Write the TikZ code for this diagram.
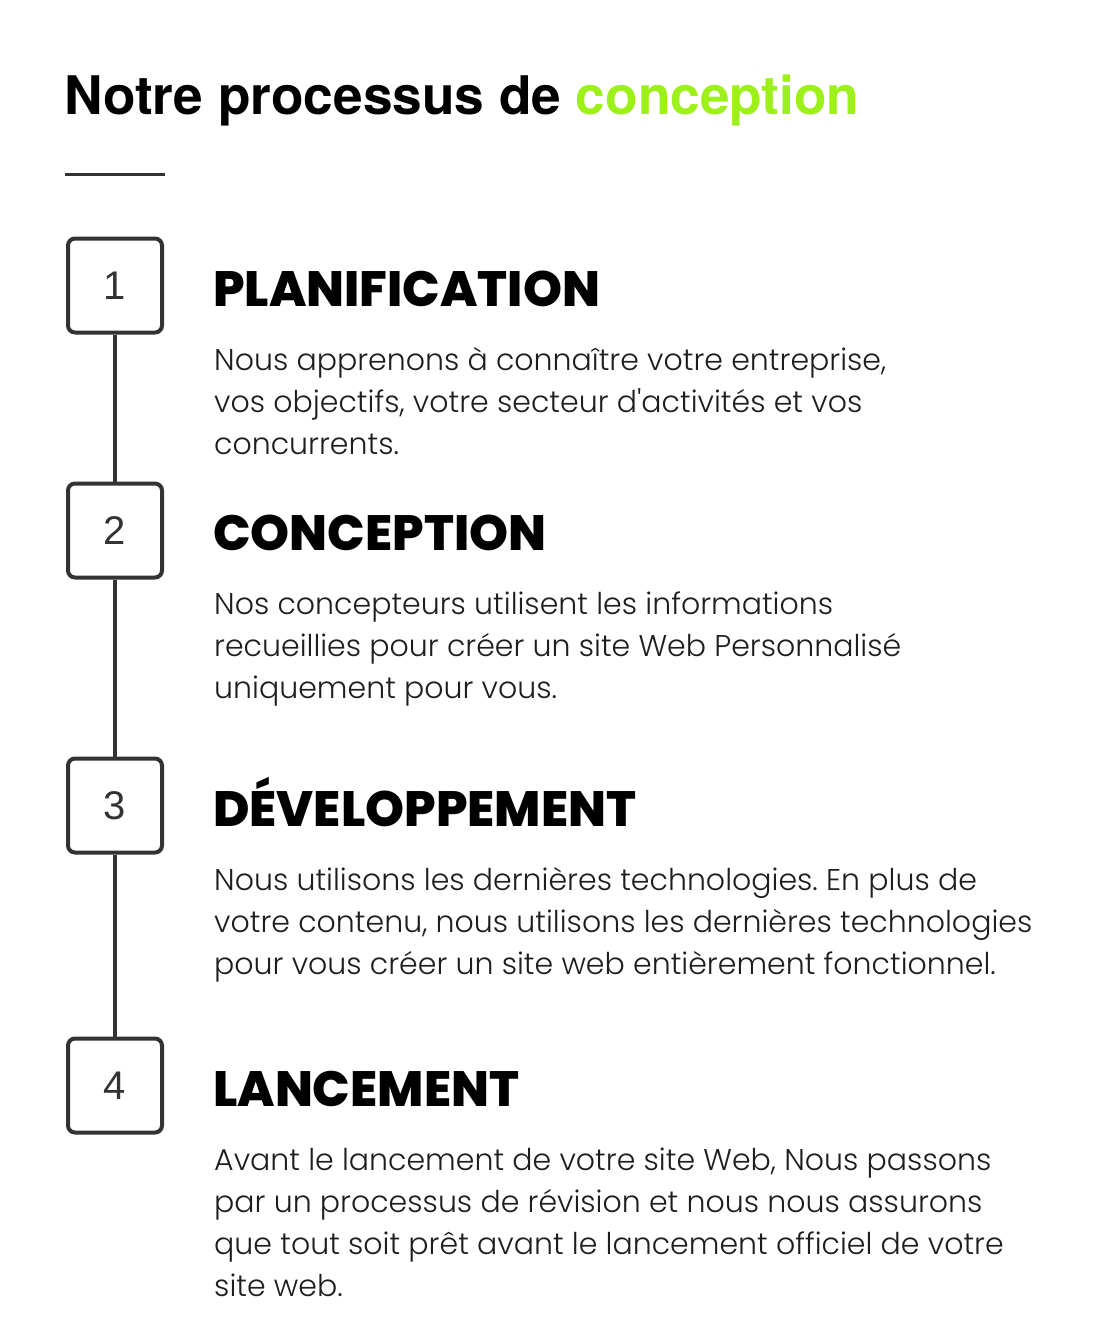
\documentclass[tikz,border=0pt]{standalone}
\usepackage{fontspec}
\setmainfont{Poppins}[UprightFont=* Light, BoldFont=* ExtraBold]
\newfontfamily\titlefont{TeX Gyre Heros}
\newfontfamily\numfont{Liberation Sans}
\usetikzlibrary{positioning}
\frenchspacing

\definecolor{boxgray}{HTML}{333333}
\definecolor{textgray}{HTML}{1E1E1E}
\definecolor{limegreen}{HTML}{9EF01A}

\tikzset{
    stepnum/.style={draw=boxgray, line width=4pt, rounded corners=7pt,
        minimum size=94pt, inner sep=0pt, text=boxgray,
        font=\numfont\fontsize{40}{40}\selectfont},
    heading/.style={anchor=base west, inner sep=0pt,
        font=\bfseries\fontsize{49.6}{50}\selectfont},
    bodytext/.style={anchor=base west, inner sep=0pt, align=left, text=textgray,
        font=\fontsize{30}{42}\selectfont},
    link/.style={boxgray, line width=4pt}
}

\begin{document}
\begin{tikzpicture}[x=1pt,y=-1pt]
    \useasboundingbox (0,0) rectangle (1100,1335);
    % title
    \node[anchor=base west, inner sep=0pt, font=\titlefont\bfseries\fontsize{53.2}{53}\selectfont]
        (title) at (64,115) {Notre processus de \textcolor{limegreen}{conception}};
    \draw[line width=3pt, boxgray] (65,174) -- (165,174);

    % steps
    \node[stepnum] (s1) at (115,285.5) {1};
    \node[stepnum] (s2) at (115,530.5) {2};
    \node[stepnum] (s3) at (115,805.5) {3};
    \node[stepnum] (s4) at (115,1085.5) {4};
    \draw[link] (s1) -- (s2);
    \draw[link] (s2) -- (s3);
    \draw[link] (s3) -- (s4);

    % headings
    \node[heading] (h1) at (213,306) {PLANIFICATION};
    \node[heading] (h2) at (213,550) {CONCEPTION};
    \node[heading] (h3) at (213,826) {DÉVELOPPEMENT};
    \node[heading] (h4) at (213,1106) {LANCEMENT};

    % texts (placed by the baseline of their last line)
    \node[bodytext] (b1) at (214,454) {Nous apprenons à connaître votre entreprise,\\
        vos objectifs, votre secteur d\textquotesingle activités et vos\\ concurrents.};
    \node[bodytext] (b2) at (214,698) {Nos concepteurs utilisent les informations\\
        recueillies pour créer un site Web Personnalisé\\ uniquement pour vous.};
    \node[bodytext] (b3) at (214,974) {Nous utilisons les dernières technologies. En plus de\\
        votre contenu, nous utilisons les dernières technologies\\
        pour vous créer un site web entièrement fonctionnel.};
    \node[bodytext] (b4) at (214,1296) {Avant le lancement de votre site Web, Nous passons\\
        par un processus de révision et nous nous assurons\\
        que tout soit prêt avant le lancement officiel de votre\\ site web.};
\end{tikzpicture}
\end{document}
